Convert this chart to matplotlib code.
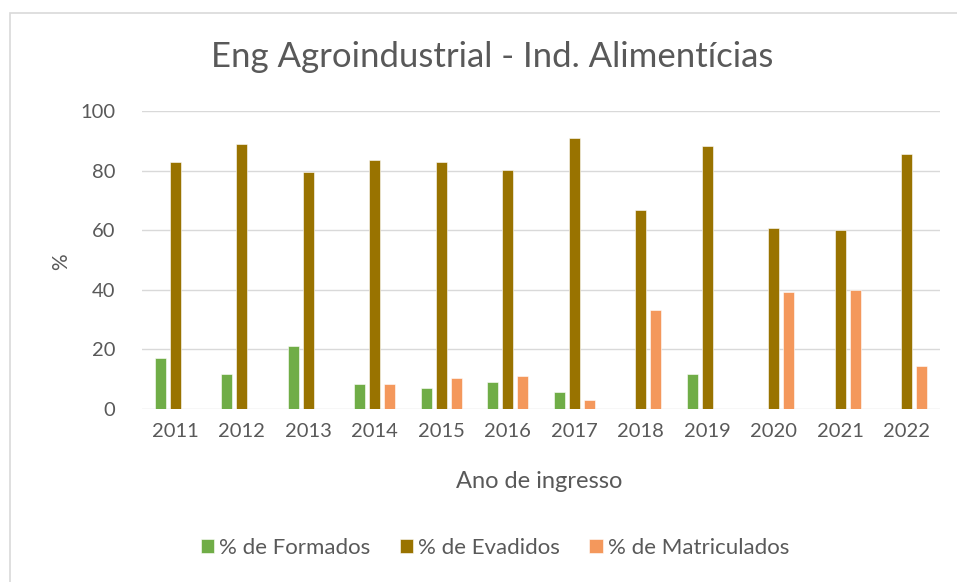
import matplotlib
matplotlib.use("Agg")
import matplotlib.pyplot as plt
import numpy as np
from matplotlib.patches import Rectangle

years = ["2011", "2012", "2013", "2014", "2015", "2016", "2017", "2018", "2019", "2020", "2021", "2022"]
formados = [17.1, 11.7, 21.0, 8.4, 7.0, 9.0, 5.7, 0, 11.7, 0, 0, 0]
evadidos = [82.8, 88.9, 79.6, 83.5, 82.8, 80.1, 90.8, 66.7, 88.2, 60.7, 60.0, 85.5]
matriculados = [0, 0, 0, 8.4, 10.4, 11.1, 2.9, 33.1, 0, 39.2, 39.9, 14.4]
series_names = ["% de Formados", "% de Evadidos", "% de Matriculados"]
colors = ["#70AD47", "#997300", "#F4985C"]

W, H = 957, 582
fig = plt.figure(figsize=(W / 100, H / 100), dpi=100)
plt.rcParams['font.family'] = ['Lato', 'DejaVu Sans']

# chart border
fig.patches.append(Rectangle((10 / W, -0.01), 1.1, 1 - 13 / H + 0.01, transform=fig.transFigure,
                             fill=False, edgecolor="#D9D9D9", linewidth=1.2))

ax = fig.add_axes([142 / W, 1 - 409 / H, (940 - 142) / W, (409 - 111) / H])
x = np.arange(len(years))
bw = 0.17
off = 0.225
for i, (vals, name, c) in enumerate(zip([formados, evadidos, matriculados], series_names, colors)):
    ax.bar(x + (i - 1) * off, vals, width=bw, color=c, label=name,
           edgecolor="#FFFFFF", linewidth=0.4, zorder=3)

ax.set_xlim(-0.5, len(years) - 0.5)
ax.set_ylim(0, 100)
ax.set_yticks([0, 20, 40, 60, 80, 100])
ax.set_xticks(x)
ax.set_xticklabels(years)
ax.grid(axis='y', color="#D9D9D9", linewidth=1.0, zorder=0)
for s in ax.spines.values():
    s.set_visible(False)
ax.tick_params(axis='both', length=0, labelsize=14.5, colors="#595959")
ax.tick_params(axis='x', pad=10)
ax.tick_params(axis='y', pad=19)

fig.text(492 / W, 1 - 57 / H, "Eng Agroindustrial - Ind. Alimentícias", ha='center', va='center',
         fontsize=25, color="#595959")
fig.text(61 / W, 1 - 262 / H, "%", ha='center', va='center', rotation=90, fontsize=15, color="#595959")
fig.text(539 / W, 1 - 481 / H, "Ano de ingresso", ha='center', va='center', fontsize=17, color="#595959")

leg = fig.legend(loc='center', bbox_to_anchor=(495 / W, 1 - 548 / H), ncol=3, frameon=False,
                 fontsize=16, handlelength=0.6, handleheight=0.6, handletextpad=0.25, columnspacing=1.3,
                 labelcolor="#595959")

fig.savefig("out.png", dpi=100, facecolor="white")
